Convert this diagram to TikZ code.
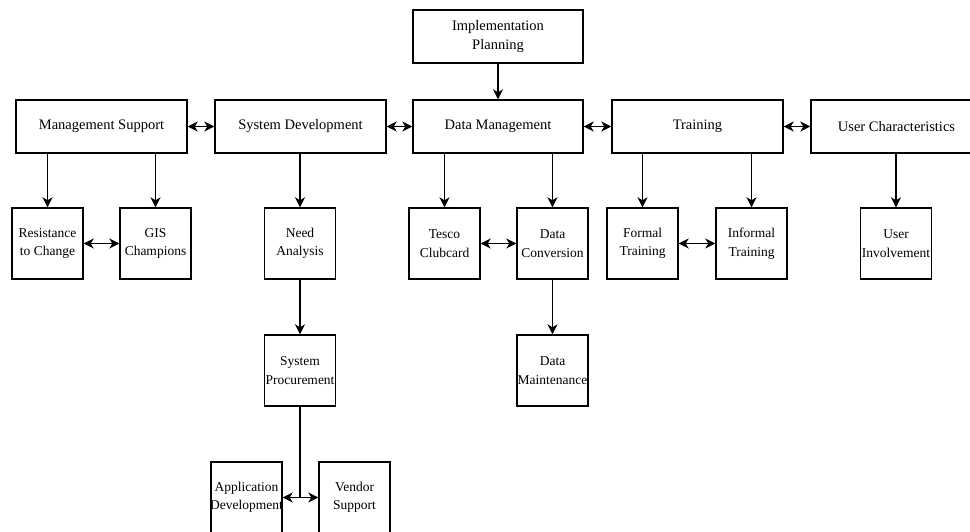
\documentclass[tikz,border=0pt]{standalone}
\usepackage{fontspec}
\setmainfont{Liberation Serif}
\usetikzlibrary{arrows.meta}
\newcommand\cl[1]{\makebox[0pt]{#1}}
\begin{document}
\begin{tikzpicture}[x=1pt,y=-1pt,
  every node/.style={draw, line width=1.4pt, fill=white, inner sep=0pt, align=center},
  bigbox/.style={minimum width=171pt, minimum height=53pt, font=\fontsize{14.5}{18.5}\selectfont},
  smallbox/.style={minimum width=71pt, minimum height=71pt, font=\fontsize{13.5}{18.5}\selectfont},
  tip/.style={Stealth[length=10pt,width=10pt,inset=3pt]},
  conn/.style={line width=1.4pt, -{Stealth[length=10pt,width=10pt,inset=3pt]}},
  dconn/.style={line width=1.4pt, {Stealth[length=10pt,width=10pt,inset=3pt]}-{Stealth[length=10pt,width=10pt,inset=3pt]}},
  plain/.style={line width=1.4pt}]
\clip (0,0) rectangle (970,532);
\fill[white] (0,0) rectangle (970,532);
% top
\node[bigbox, minimum width=170pt] (ip) at (498,36.5) {Implementation\\Planning};
\node[bigbox] (ms) at (101.5,126.5) {Management Support};
\node[bigbox] (sd) at (300.5,126.5) {System Development};
\node[bigbox, minimum width=170pt] (dm) at (498,126.5) {Data Management};
\node[bigbox] (tr) at (697.5,126.5) {Training};
\node[bigbox] (uc) at (896.5,126.5) {User Characteristics};
% second row
\node[smallbox] (rc) at (47.5,243.5) {\cl{Resistance}\\\cl{to Change}};
\node[smallbox] (gc) at (155.5,243.5) {\cl{GIS}\\\cl{Champions}};
\node[smallbox] (na) at (300,243.5) {\cl{Need}\\\cl{Analysis}};
\node[smallbox] (tc) at (444.5,243.5) {\cl{Tesco}\\\cl{Clubcard}};
\node[smallbox] (dc) at (552.5,243.5) {\cl{Data}\\\cl{Conversion}};
\node[smallbox] (ft) at (642.5,243.5) {\cl{Formal}\\\cl{Training}};
\node[smallbox] (it) at (751.5,243.5) {\cl{Informal}\\\cl{Training}};
\node[smallbox] (ui) at (896,243.5) {\cl{User}\\\cl{Involvement}};
% third row
\node[smallbox] (sp) at (300,370.5) {\cl{System}\\\cl{Procurement}};
\node[smallbox] (dmn) at (552.5,370.5) {\cl{Data}\\\cl{Maintenance}};
% fourth row
\node[smallbox] (ad) at (246.5,497.5) {\cl{Application}\\\cl{Development}};
\node[smallbox] (vs) at (354.5,497.5) {\cl{Vendor}\\\cl{Support}};
\coordinate (spj) at (300,497.5);
% connectors
\draw[conn] (ip) -- (dm);
\draw[dconn] (ms) -- (sd);
\draw[dconn] (sd) -- (dm);
\draw[dconn] (dm) -- (tr);
\draw[dconn] (tr) -- (uc);
\draw[conn] (rc.north |- ms.south) -- (rc.north);
\draw[conn] (gc.north |- ms.south) -- (gc.north);
\draw[conn] (na.north |- sd.south) -- (na.north);
\draw[conn] (tc.north |- dm.south) -- (tc.north);
\draw[conn] (dc.north |- dm.south) -- (dc.north);
\draw[conn] (ft.north |- tr.south) -- (ft.north);
\draw[conn] (it.north |- tr.south) -- (it.north);
\draw[conn] (ui.north |- uc.south) -- (ui.north);
\draw[dconn] (rc) -- (gc);
\draw[dconn] (tc) -- (dc);
\draw[dconn] (ft) -- (it);
\draw[conn] (na) -- (sp);
\draw[conn] (dc) -- (dmn);
\draw[plain] (sp.south) -- (spj);
\draw[dconn] (ad) -- (vs);
\end{tikzpicture}
\end{document}
